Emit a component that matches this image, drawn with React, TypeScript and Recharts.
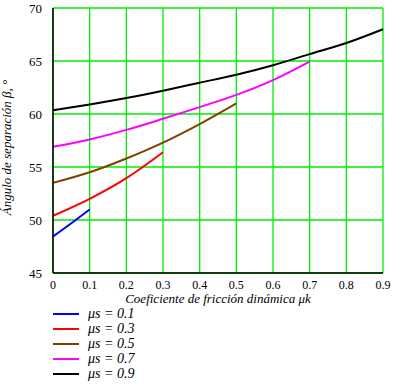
import { CartesianGrid, Line, LineChart, XAxis, YAxis } from "recharts";

type Pt = { x: number; y: number };

const X_TICKS = [0, 0.1, 0.2, 0.3, 0.4, 0.5, 0.6, 0.7, 0.8, 0.9];
const Y_TICKS = [45, 50, 55, 60, 65, 70];

const MU_S_01: Pt[] = [
  { x: 0, y: 48.45 },
  { x: 0.05, y: 49.7 },
  { x: 0.1, y: 51.0 },
];
const MU_S_03: Pt[] = [
  { x: 0, y: 50.4 },
  { x: 0.1, y: 52.0 },
  { x: 0.2, y: 53.95 },
  { x: 0.3, y: 56.4 },
];
const MU_S_05: Pt[] = [
  { x: 0, y: 53.5 },
  { x: 0.1, y: 54.5 },
  { x: 0.2, y: 55.8 },
  { x: 0.3, y: 57.3 },
  { x: 0.4, y: 59.05 },
  { x: 0.5, y: 61.0 },
];
const MU_S_07: Pt[] = [
  { x: 0, y: 56.9 },
  { x: 0.1, y: 57.6 },
  { x: 0.2, y: 58.5 },
  { x: 0.3, y: 59.55 },
  { x: 0.4, y: 60.65 },
  { x: 0.5, y: 61.8 },
  { x: 0.6, y: 63.2 },
  { x: 0.7, y: 64.95 },
];
const MU_S_09: Pt[] = [
  { x: 0, y: 60.35 },
  { x: 0.1, y: 60.9 },
  { x: 0.2, y: 61.5 },
  { x: 0.3, y: 62.2 },
  { x: 0.4, y: 62.95 },
  { x: 0.5, y: 63.7 },
  { x: 0.6, y: 64.6 },
  { x: 0.7, y: 65.65 },
  { x: 0.8, y: 66.7 },
  { x: 0.9, y: 68.0 },
];

const SERIES = [
  { name: "μs = 0.1", color: "#0000ff", data: MU_S_01 },
  { name: "μs = 0.3", color: "#ff0000", data: MU_S_03 },
  { name: "μs = 0.5", color: "#804000", data: MU_S_05 },
  { name: "μs = 0.7", color: "#ff00ff", data: MU_S_07 },
  { name: "μs = 0.9", color: "#000000", data: MU_S_09 },
];

const FONT = "Liberation Serif";

function LegendBox() {
  return (
    <div style={{ position: "absolute", left: 53, top: 306, fontStyle: "italic", fontSize: 14 }}>
      {SERIES.map((s) => (
        <div key={s.name} style={{ display: "flex", alignItems: "center", height: 15.2 }}>
          <div style={{ width: 26, height: 2, background: s.color, marginRight: 9 }} />
          <span>{s.name}</span>
        </div>
      ))}
    </div>
  );
}

export default function App() {
  return (
    <div
      style={{
        position: "absolute",
        left: 0,
        top: 0,
        width: 397,
        height: 386,
        background: "#fff",
        fontFamily: FONT,
      }}
    >
      <LineChart width={397} height={386} margin={{ top: 8, right: 14, left: 0, bottom: 0 }}>
        <CartesianGrid stroke="#00ee00" strokeWidth={1.3} horizontalValues={Y_TICKS} verticalValues={X_TICKS} />
        <XAxis
          type="number"
          dataKey="x"
          domain={[0, 0.9]}
          ticks={X_TICKS}
          height={113}
          tickLine={false}
          axisLine={{ stroke: "#000", strokeWidth: 1.5 }}
          tick={{ fill: "#000", fontSize: 12, fontFamily: FONT }}
          tickMargin={1}
          allowDuplicatedCategory={false}
          label={{
            value: "Coeficiente de fricción dinámica μk",
            position: "insideTop",
            offset: 21,
            style: { fontFamily: FONT, fontStyle: "italic", fontSize: 13, fill: "#000" },
          }}
        />
        <XAxis
          xAxisId="top"
          orientation="top"
          type="number"
          domain={[0, 0.9]}
          height={0}
          tick={false}
          tickLine={false}
          axisLine={{ stroke: "#000", strokeWidth: 1.5 }}
        />
        <YAxis
          type="number"
          domain={[45, 70]}
          ticks={Y_TICKS}
          width={53}
          tickLine={false}
          axisLine={{ stroke: "#000", strokeWidth: 1.5 }}
          tick={{ fill: "#000", fontSize: 13, fontFamily: FONT }}
          tickMargin={5}
          label={{
            value: "Ángulo de separación β, °",
            angle: -90,
            position: "insideLeft",
            offset: 6,
            dy: 7,
            style: { fontFamily: FONT, fontStyle: "italic", fontSize: 13, fill: "#000", textAnchor: "middle" },
          }}
        />
        <YAxis
          yAxisId="right"
          orientation="right"
          domain={[45, 70]}
          width={0}
          tick={false}
          tickLine={false}
          axisLine={{ stroke: "#000", strokeWidth: 1.5 }}
        />
        {SERIES.map((s) => (
          <Line
            key={s.name}
            data={s.data}
            dataKey="y"
            name={s.name}
            type="monotone"
            stroke={s.color}
            strokeWidth={2}
            dot={false}
            isAnimationActive={false}
          />
        ))}
      </LineChart>
      <LegendBox />
    </div>
  );
}
